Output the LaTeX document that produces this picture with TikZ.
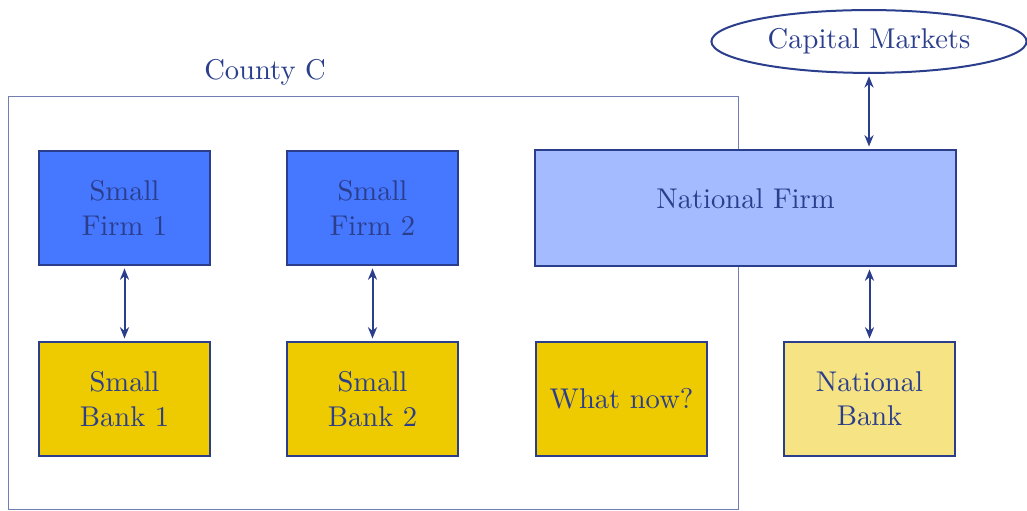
\documentclass[tikz,border=0pt]{standalone}
\usetikzlibrary{arrows.meta,shapes.geometric}
\definecolor{txt}{HTML}{2B3E8C}
\definecolor{fblue}{HTML}{4677FF}
\definecolor{fyellow}{HTML}{EECA00}
\definecolor{lblue}{HTML}{A4BBFF}
\definecolor{lyellow}{HTML}{F5E384}
\definecolor{cline}{HTML}{6F7FB3}
\tikzset{
  box/.style={draw=txt, line width=0.8pt, text=txt, inner sep=0pt, align=center,
    minimum width=59.85pt, minimum height=39.9pt},
  link/.style={draw=txt, line width=0.7pt, {Stealth[length=4pt,width=3.2pt]}-{Stealth[length=4pt,width=3.2pt]}, shorten >=0.8pt, shorten <=0.8pt},
}
\begin{document}
\begin{tikzpicture}[x=0.35pt, y=-0.35pt]
\useasboundingbox (0,0) rectangle (1027,511);
\node[draw=cline, line width=0.35pt, minimum width=255.5pt, minimum height=144.55pt, inner sep=0pt] (county) at (373,303.5) {};
\node[text=txt] (countylabel) at (265,72) {County C};
\node[box, fill=fblue] (sf1) at (124.5,208) {Small\\Firm 1};
\node[box, fill=fblue] (sf2) at (372.5,208) {Small\\Firm 2};
\node[box, fill=lblue, minimum width=147.35pt, minimum height=40.6pt] (nf) at (745.5,208) {\raisebox{3.2pt}[\height][\depth]{National Firm}};
\node[box, fill=fyellow] (sb1) at (124.5,399) {Small\\Bank 1};
\node[box, fill=fyellow] (sb2) at (372.5,399) {Small\\Bank 2};
\node[box, fill=fyellow] (wn) at (621.5,399) {What now?};
\node[box, fill=lyellow] (nb) at (869.5,399) {National\\Bank};
\node[ellipse, draw=txt, line width=0.7pt, text=txt, inner sep=0pt, minimum width=110.3pt, minimum height=22pt] (cm) at (869,41.5) {Capital Markets};
\draw[link] (sf1.south) -- (sb1.north);
\draw[link] (sf2.south) -- (sb2.north);
\draw[link] (nb.north |- nf.south) -- (nb.north);
\draw[link] (cm.south) -- (cm.south |- nf.north);
\end{tikzpicture}
\end{document}
